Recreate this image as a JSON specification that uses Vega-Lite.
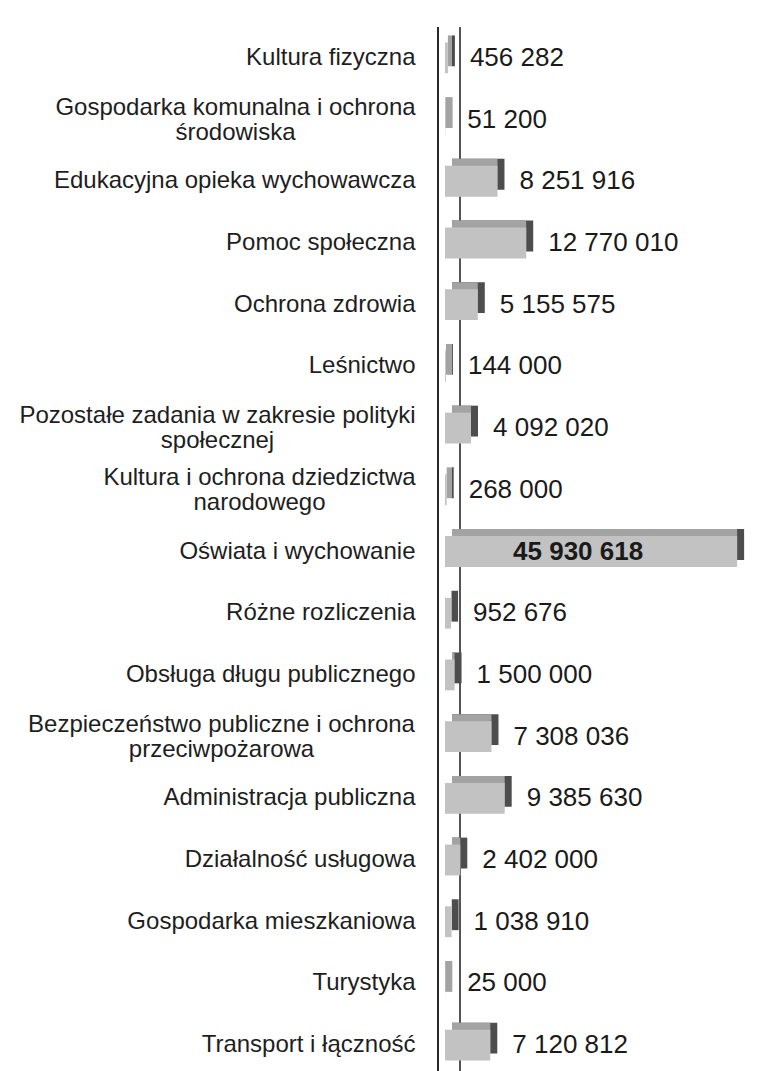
{
  "$schema": "https://vega.github.io/schema/vega-lite/v6.json",
  "autosize": {"type": "none"},
  "padding": {"left": 445, "top": 27, "right": 0, "bottom": 0},
  "width": 318,
  "height": 1049,
  "background": "white",
  "config": {
    "font": "Liberation Sans",
    "view": {"stroke": null},
    "locale": {"number": {"decimal": ",", "thousands": " ", "grouping": [3], "currency": ["", " zł"]}}
  },
  "data": {
    "values": [
      {"category": "Kultura fizyczna", "value": 456282},
      {"category": "Gospodarka komunalna i ochrona\nśrodowiska", "value": 51200},
      {"category": "Edukacyjna opieka wychowawcza", "value": 8251916},
      {"category": "Pomoc społeczna", "value": 12770010},
      {"category": "Ochrona zdrowia", "value": 5155575},
      {"category": "Leśnictwo", "value": 144000},
      {"category": "Pozostałe zadania w zakresie polityki\nspołecznej", "value": 4092020},
      {"category": "Kultura i ochrona dziedzictwa\nnarodowego", "value": 268000},
      {"category": "Oświata i wychowanie", "value": 45930618},
      {"category": "Różne rozliczenia", "value": 952676},
      {"category": "Obsługa długu publicznego", "value": 1500000},
      {"category": "Bezpieczeństwo publiczne i ochrona\nprzeciwpożarowa", "value": 7308036},
      {"category": "Administracja publiczna", "value": 9385630},
      {"category": "Działalność usługowa", "value": 2402000},
      {"category": "Gospodarka mieszkaniowa", "value": 1038910},
      {"category": "Turystyka", "value": 25000},
      {"category": "Transport i łączność", "value": 7120812}
    ]
  },
  "layer": [
    {
      "mark": {"type": "rule", "color": "#2a2a2a", "strokeWidth": 1.6, "xOffset": -7},
      "encoding": {"x": {"datum": 0, "type": "quantitative", "scale": {"domain": [0, 45930618]}, "axis": null}}
    },
    {
      "mark": {"type": "rule", "color": "#555555", "strokeWidth": 1.2, "xOffset": 15},
      "encoding": {"x": {"datum": 0, "type": "quantitative"}}
    },
    {
      "encoding": {
        "y": {
          "field": "category",
          "type": "nominal",
          "sort": null,
          "scale": {"paddingInner": 0.5, "paddingOuter": 0.25},
          "axis": {
            "title": null,
            "domain": false,
            "ticks": false,
            "labelFontSize": 24,
            "labelColor": "#1e1e1e",
            "labelLimit": 600,
            "labelLineHeight": 25,
            "labelBaseline": "middle",
            "labelExpr": "split(datum.label, '\\n')",
            "labelAlign": {"condition": {"test": "indexof(datum.value, '\\n') >= 0", "value": "center"}, "value": "right"},
            "labelOffset": {"condition": {"test": "indexof(datum.value, '\\n') >= 0", "value": -12}, "value": 0},
            "labelPadding": {
              "condition": [
                {"test": "indexof(datum.value, 'Gospodarka komunalna') >= 0", "value": 210},
                {"test": "indexof(datum.value, 'Pozostałe') >= 0", "value": 228},
                {"test": "indexof(datum.value, 'dziedzictwa') >= 0", "value": 186},
                {"test": "indexof(datum.value, 'Bezpiecze') >= 0", "value": 224}
              ],
              "value": 30
            }
          }
        }
      },
      "layer": [
        {
          "mark": {"type": "bar", "color": "#4d4d4d", "xOffset": 7, "x2Offset": 7, "yOffset": -7},
          "encoding": {
            "x": {"field": "value", "type": "quantitative"},
            "x2": {"datum": 0}
          }
        },
        {
          "mark": {"type": "bar", "color": "#a3a3a3", "xOffset": 0, "x2Offset": 7, "yOffset": -7},
          "encoding": {
            "x": {"field": "value", "type": "quantitative"},
            "x2": {"datum": 0}
          }
        },
        {
          "mark": {"type": "bar", "color": "#c2c2c2"},
          "encoding": {
            "x": {"field": "value", "type": "quantitative"},
            "x2": {"datum": 0}
          }
        },
        {
          "transform": [{"filter": "datum.value < 40000000"}],
          "mark": {"type": "text", "align": "left", "baseline": "middle", "dx": 22, "fontSize": 26, "color": "#1a1a1a"},
          "encoding": {
            "x": {"field": "value", "type": "quantitative"},
            "text": {"field": "value", "type": "quantitative", "format": ",d"}
          }
        },
        {
          "transform": [{"filter": "datum.value >= 40000000"}],
          "mark": {"type": "text", "align": "center", "baseline": "middle", "dx": -159, "fontSize": 26, "fontWeight": "bold", "color": "#1a1a1a"},
          "encoding": {
            "x": {"field": "value", "type": "quantitative"},
            "text": {"field": "value", "type": "quantitative", "format": ",d"}
          }
        }
      ]
    }
  ]
}
